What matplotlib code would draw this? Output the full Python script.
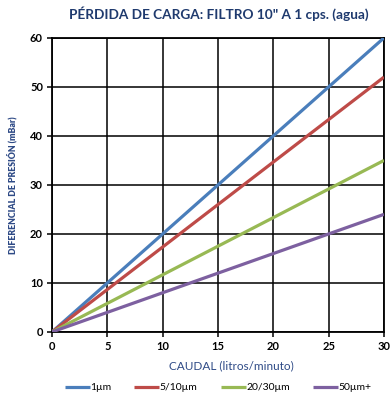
import matplotlib
matplotlib.use("Agg")
import matplotlib.pyplot as plt

# Flow rate (litres/minute) and pressure drop (mBar) for each filter grade
caudal = [0, 30]
series_names = ["1µm", "5/10µm", "20/30µm", "50µm+"]
perdida_1 = [0, 60]
perdida_5_10 = [0, 52]
perdida_20_30 = [0, 35]
perdida_50 = [0, 24]
colors = ["#4A7EBB", "#BE4B48", "#98B954", "#7D60A0"]

x_ticks = [0, 5, 10, 15, 20, 25, 30]
y_ticks = [0, 10, 20, 30, 40, 50, 60]

plt.rcParams["font.family"] = ["Lato", "DejaVu Sans"]

fig = plt.figure(figsize=(3.91, 3.99), dpi=100)
ax = fig.add_axes([0.133, 0.168, 0.849, 0.737])

for name, vals, c in zip(series_names,
                         [perdida_1, perdida_5_10, perdida_20_30, perdida_50],
                         colors):
    ax.plot(caudal, vals, color=c, lw=2.3, label=name, solid_capstyle="butt", zorder=3)

ax.set_xlim(0, 30)
ax.set_ylim(0, 60)
ax.set_xticks(x_ticks)
ax.set_yticks(y_ticks)
ax.grid(True, color="black", lw=1.1, zorder=1)
for s in ax.spines.values():
    s.set_linewidth(1.3)
    s.set_color("black")
ax.tick_params(axis="both", length=3.5, width=1.1, labelsize=8, pad=3)
for lab in ax.get_xticklabels() + ax.get_yticklabels():
    lab.set_fontweight("bold")

ax.set_xlabel("CAUDAL (litros/minuto)", fontsize=8.5, color="#2E4A86")
ax.xaxis.set_label_coords(0.54, -0.095)
ax.set_ylabel("DIFERENCIAL DE PRESIÓN (mBar)", fontsize=6.3, color="#2E4A86",
              fontweight="heavy")
ax.yaxis.set_label_coords(-0.105, 0.5)
fig.text(0.56, 0.965, "PÉRDIDA DE CARGA: FILTRO 10\" A 1 cps. (agua)",
         ha="center", va="center", fontsize=9.8, fontweight="bold", color="#1F3A6E")

ax.legend(loc="center", bbox_to_anchor=(0.5, -0.19), ncol=4, frameon=False,
          fontsize=7.5, handlelength=2.4, handletextpad=0.05, columnspacing=2.2)

fig.savefig("out.png", dpi=100)
